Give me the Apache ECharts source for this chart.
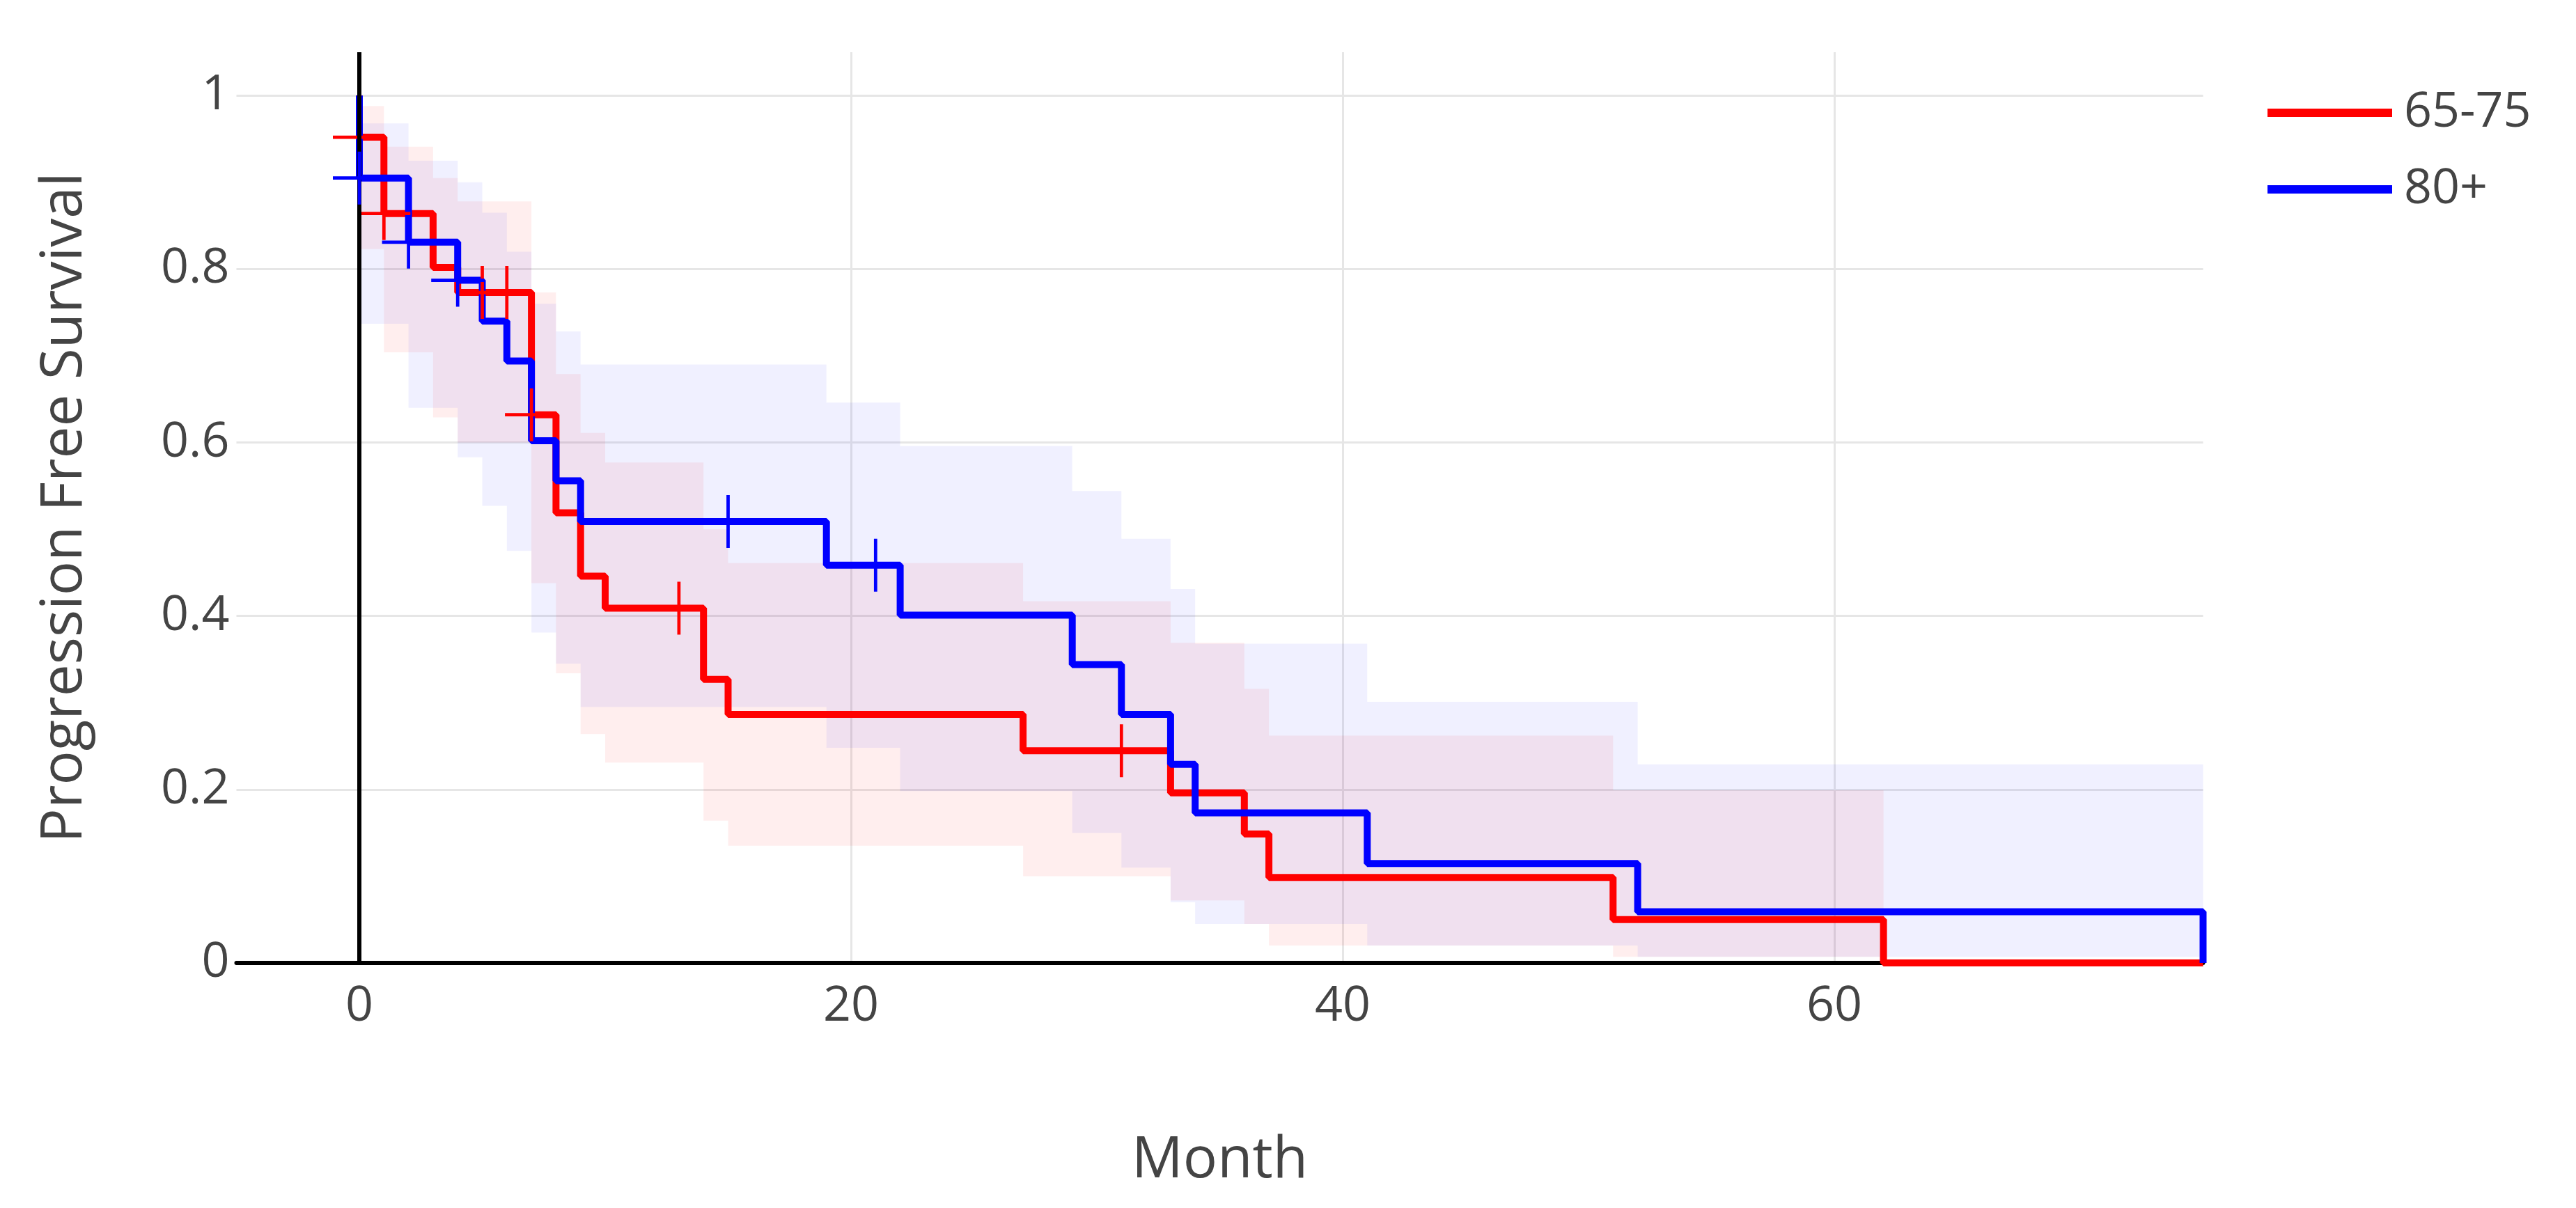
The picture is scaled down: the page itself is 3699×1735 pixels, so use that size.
<!DOCTYPE html>
<html>
<head>
<meta charset="utf-8">
<script src="https://cdn.jsdelivr.net/npm/echarts@6/dist/echarts.min.js"></script>
<style>
html,body{margin:0;padding:0;background:#fff;}
#c{width:3699px;height:1735px;}
</style>
</head>
<body>
<div id="c"></div>
<script>
// ---- data ----
const seriesNames = ['65-75', '80+'];
const xTicks = [0, 20, 40, 60];
const yTicks = [0, 0.2, 0.4, 0.6, 0.8, 1];

// Kaplan-Meier step points (month, survival)
const redTimes = [0, 0, 1, 3, 4, 7, 8, 9, 10, 14, 15, 27, 33, 36, 37, 51, 62, 75];
const redSurv  = [1, 0.952, 0.864, 0.802, 0.773, 0.632, 0.519, 0.446, 0.409, 0.327, 0.2865, 0.2447, 0.196, 0.1487, 0.0985, 0.050, 0, 0];
const blueTimes = [0, 0, 2, 4, 5, 6, 7, 8, 9, 19, 22, 29, 31, 33, 34, 41, 52, 75];
const blueSurv  = [1, 0.905, 0.831, 0.787, 0.740, 0.694, 0.602, 0.556, 0.509, 0.4586, 0.401, 0.344, 0.2866, 0.229, 0.173, 0.1146, 0.059, 0];

// censor marks
const redCensorT = [0, 1, 5, 6, 7, 13, 31];
const redCensorS = [0.952, 0.864, 0.773, 0.773, 0.632, 0.409, 0.2447];
const blueCensorT = [0, 2, 4, 15, 21];
const blueCensorS = [0.905, 0.831, 0.787, 0.509, 0.4586];

// confidence bands: interval edges and lower/upper per interval
const redBandT  = [0, 1, 3, 4, 7, 8, 9, 10, 14, 15, 27, 33, 36, 37, 51, 62];
const redBandUp = [0.988, 0.941, 0.905, 0.878, 0.773, 0.679, 0.611, 0.577, 0.50, 0.461, 0.417, 0.369, 0.316, 0.262, 0.199];
const redBandLo = [0.823, 0.704, 0.629, 0.60, 0.438, 0.334, 0.264, 0.231, 0.164, 0.135, 0.10, 0.072, 0.045, 0.02, 0.007];
const blueBandT  = [0, 2, 4, 5, 6, 7, 8, 9, 19, 22, 29, 31, 33, 34, 41, 52, 75];
const blueBandUp = [0.968, 0.925, 0.90, 0.865, 0.82, 0.76, 0.728, 0.69, 0.646, 0.596, 0.544, 0.489, 0.431, 0.368, 0.301, 0.229];
const blueBandLo = [0.737, 0.64, 0.583, 0.527, 0.475, 0.381, 0.345, 0.295, 0.248, 0.198, 0.15, 0.11, 0.07, 0.045, 0.02, 0.007];

// ---- build ----
const zip = (a, b) => a.map((v, i) => [v, b[i]]);
function bandData(T, lo, up) {
  return lo.map((l, i) => [T[i], T[i + 1], l, up[i]]);
}
function bandSeries(name, T, lo, up, color) {
  return {
    type: 'custom',
    name: name,
    z: 1,
    silent: true,
    data: bandData(T, lo, up),
    encode: { x: [0, 1], y: [2, 3] },
    renderItem: function (params, api) {
      if (params.dataIndex !== 0) return null;
      const pts = [];
      for (let i = 0; i < up.length; i++) {
        pts.push(api.coord([T[i], up[i]]));
        pts.push(api.coord([T[i + 1], up[i]]));
      }
      for (let i = lo.length - 1; i >= 0; i--) {
        pts.push(api.coord([T[i + 1], lo[i]]));
        pts.push(api.coord([T[i], lo[i]]));
      }
      return { type: 'polygon', shape: { points: pts }, style: { fill: color, stroke: null } };
    }
  };
}
const plusPath = 'path://M-1,-16L1,-16L1,16L-1,16Z M-16,-1L16,-1L16,1L-16,1Z';

const fontFam = '"Open Sans", "Noto Sans", sans-serif';
const chart = echarts.init(document.getElementById('c'), null, { renderer: 'canvas' });
chart.setOption({
  backgroundColor: '#ffffff',
  animation: false,
  textStyle: { fontFamily: fontFam },
  grid: { left: 339.5, right: 535.5, top: 75, bottom: 352, containLabel: false },
  legend: {
    orient: 'vertical',
    left: 3251,
    top: 122,
    itemWidth: 179,
    itemHeight: 12,
    itemGap: 40,
    textStyle: { fontFamily: fontFam, fontSize: 70, color: '#444', padding: [0, 0, 0, 12] },
    data: [
      { name: seriesNames[0], icon: 'rect', itemStyle: { color: '#ff0000' } },
      { name: seriesNames[1], icon: 'rect', itemStyle: { color: '#0000ff' } }
    ]
  },
  xAxis: {
    type: 'value',
    min: -5,
    max: 75,
    name: 'Month',
    nameLocation: 'middle',
    nameGap: 244,
    nameTextStyle: { fontFamily: fontFam, fontSize: 82, color: '#444' },
    axisLine: { show: true, onZero: false, lineStyle: { color: '#000', width: 6 } },
    axisTick: { show: false },
    axisLabel: {
      margin: 28, fontSize: 70, color: '#444', fontFamily: fontFam,
      showMinLabel: false, showMaxLabel: false,
      formatter: v => (xTicks.indexOf(v) >= 0 ? String(v) : '')
    },
    splitLine: { show: true, showMinLine: false, showMaxLine: false, lineStyle: { color: '#e6e6e6', width: 3 } }
  },
  yAxis: {
    type: 'value',
    min: 0,
    max: 1.05,
    interval: 0.2,
    name: 'Progression Free Survival',
    nameLocation: 'middle',
    nameGap: 205,
    nameTextStyle: { fontFamily: fontFam, fontSize: 82, color: '#444' },
    axisLine: { show: false },
    axisTick: { show: false },
    axisLabel: {
      margin: 10, fontSize: 70, color: '#444', fontFamily: fontFam,
      showMaxLabel: false,
      formatter: v => { const r = Math.round(v * 100) / 100; return yTicks.indexOf(r) >= 0 ? String(r) : ''; }
    },
    splitLine: { show: true, showMaxLine: false, lineStyle: { color: '#e6e6e6', width: 3 } }
  },
  series: [
    bandSeries('band-red', redBandT, redBandLo, redBandUp, 'rgba(255,0,0,0.065)'),
    bandSeries('band-blue', blueBandT, blueBandLo, blueBandUp, 'rgba(0,0,255,0.06)'),
    {
      type: 'line', name: seriesNames[0], z: 2, step: 'end', showSymbol: false, silent: true,
      data: zip(redTimes, redSurv),
      lineStyle: { color: '#ff0000', width: 10 }, itemStyle: { color: '#ff0000' },
      markLine: {
        silent: true, symbol: ['none', 'none'], label: { show: false },
        lineStyle: { color: '#000', width: 6, type: 'solid' },
        data: [{ xAxis: 0 }]
      }
    },
    {
      type: 'line', name: seriesNames[1], z: 3, step: 'end', showSymbol: false, silent: true,
      data: zip(blueTimes, blueSurv),
      lineStyle: { color: '#0000ff', width: 10 }, itemStyle: { color: '#0000ff' }
    },
    {
      type: 'scatter', name: 'censor-red', z: 4, silent: true,
      symbol: plusPath, symbolSize: 76,
      data: zip(redCensorT, redCensorS), itemStyle: { color: '#ff0000', opacity: 1 }
    },
    {
      type: 'scatter', name: 'censor-blue', z: 5, silent: true,
      symbol: plusPath, symbolSize: 76,
      data: zip(blueCensorT, blueCensorS), itemStyle: { color: '#0000ff', opacity: 1 }
    }
  ]
});
</script>
</body>
</html>
